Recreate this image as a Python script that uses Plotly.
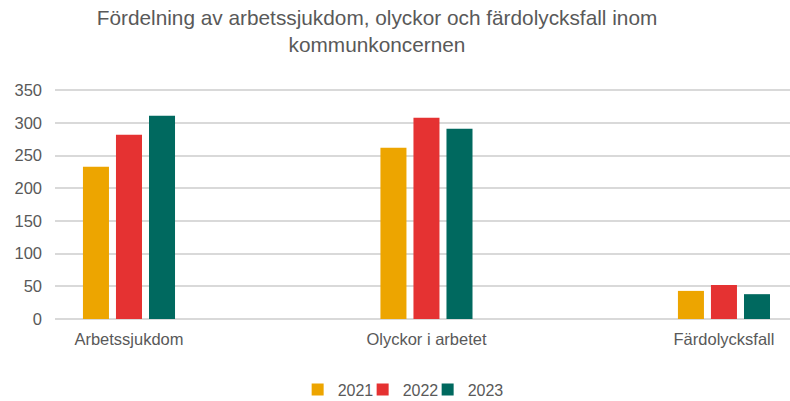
import plotly.graph_objects as go

# Data
categories = ["Arbetssjukdom", "Olyckor i arbetet", "Färdolycksfall"]
years = ["2021", "2022", "2023"]
values_2021 = [233, 262, 43]
values_2022 = [282, 308, 52]
values_2023 = [311, 291, 38]
y_ticks = [0, 50, 100, 150, 200, 250, 300, 350]

series = [values_2021, values_2022, values_2023]
colors = ["#EDA500", "#E53232", "#00695F"]

TEXT = "#595959"
GRID = "#D9D9D9"
FONT = "Liberation Sans, Arial, sans-serif"

fig = go.Figure()
for name, vals, col in zip(years, series, colors):
    fig.add_trace(go.Bar(x=categories, y=vals, name=name, marker_color=col,
                         marker_line_width=0))

# Invisible spacer entry so the last legend label is not clipped
# when the legend uses compact fixed-width entries.
fig.add_trace(go.Scatter(x=[None], y=[None], mode="lines", name="",
                         line=dict(color="rgba(0,0,0,0)", width=0),
                         hoverinfo="skip"))

fig.update_layout(
    width=790, height=401,
    margin=dict(l=55, r=0, t=89, b=81.5, autoexpand=False),
    paper_bgcolor="white", plot_bgcolor="white",
    font=dict(family=FONT, color=TEXT, size=16.5),
    barmode="group", bargap=0.667, bargroupgap=0.212,
    title=dict(
        text="Fördelning av arbetssjukdom, olyckor och färdolycksfall inom<br>kommunkoncernen",
        x=377 / 790, xref="container", xanchor="center",
        y=1 - 25 / 401, yref="container", yanchor="top",
        font=dict(size=20.8, color=TEXT, family=FONT),
    ),
    legend=dict(
        orientation="h", x=0.507, xanchor="center", y=-0.307, yanchor="middle",
        font=dict(size=16, color=TEXT), entrywidth=20, entrywidthmode="pixels",
        itemclick=False, traceorder="normal",
    ),
    showlegend=True,
)
fig.update_xaxes(
    type="category", range=[-0.2487, 2.222],
    showgrid=False, showline=False, ticks="", ticklabelstandoff=8,
    tickfont=dict(size=16.5, color=TEXT),
)
fig.update_yaxes(
    range=[0, 352], tickvals=y_ticks, showgrid=True, gridcolor=GRID, gridwidth=1.5,
    zeroline=True, zerolinecolor=GRID, zerolinewidth=1.5, showline=False,
    ticks="", ticklabelstandoff=12, tickfont=dict(size=16.5, color=TEXT),
)

fig.write_html("out.html")
